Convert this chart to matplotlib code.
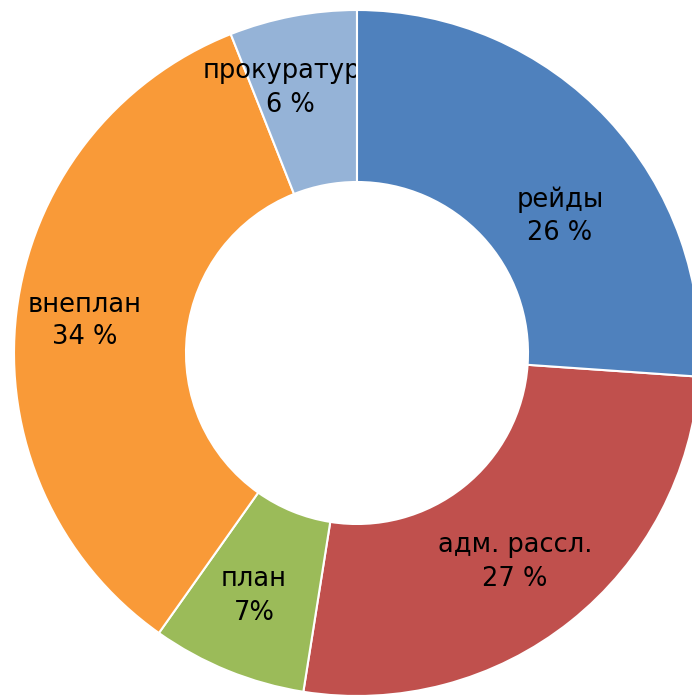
import matplotlib.pyplot as plt

# Data
categories = ["рейды", "адм. рассл.", "план", "внеплан", "прокуратура"]
shares = [26.1, 26.4, 7.3, 34.2, 6.0]
pct_labels = ["26 %", "27 %", "7%", "34 %", "6 %"]
colors = ["#4F81BD", "#C0504D", "#9BBB59", "#F99A38", "#95B3D7"]

# label centres in pixel coordinates (x, y from top)
label_pos = [(560, 216), (515, 562), (254, 596), (85, 321), (290, 88)]


def make_plot():
    plt.rcParams["font.family"] = ["DejaVu Sans"]
    fig = plt.figure(figsize=(6.92, 6.95), dpi=100)
    ax = fig.add_axes([0, 0, 1, 1])

    wedges, _ = ax.pie(
        shares,
        colors=colors,
        startangle=90,
        counterclock=False,
        center=(357, 342),
        radius=343,
        frame=True,
        wedgeprops=dict(width=172, edgecolor="white", linewidth=1.5),
    )
    # the label of the last wedge slips under the first one, as in the original
    wedges[0].set_zorder(4)

    ax.set_xlim(0, 692)
    ax.set_ylim(0, 695)
    ax.set_aspect("equal")
    ax.axis("off")

    for i, (name, pct, (x, y)) in enumerate(zip(categories, pct_labels, label_pos)):
        z = 3 if i == len(categories) - 1 else 5
        ax.text(x, 695 - y, f"{name}\n{pct}", ha="center", va="center",
                fontsize=18.5, color="black", linespacing=1.35, zorder=z)

    fig.savefig("out.png", dpi=100)


if __name__ == "__main__":
    make_plot()
